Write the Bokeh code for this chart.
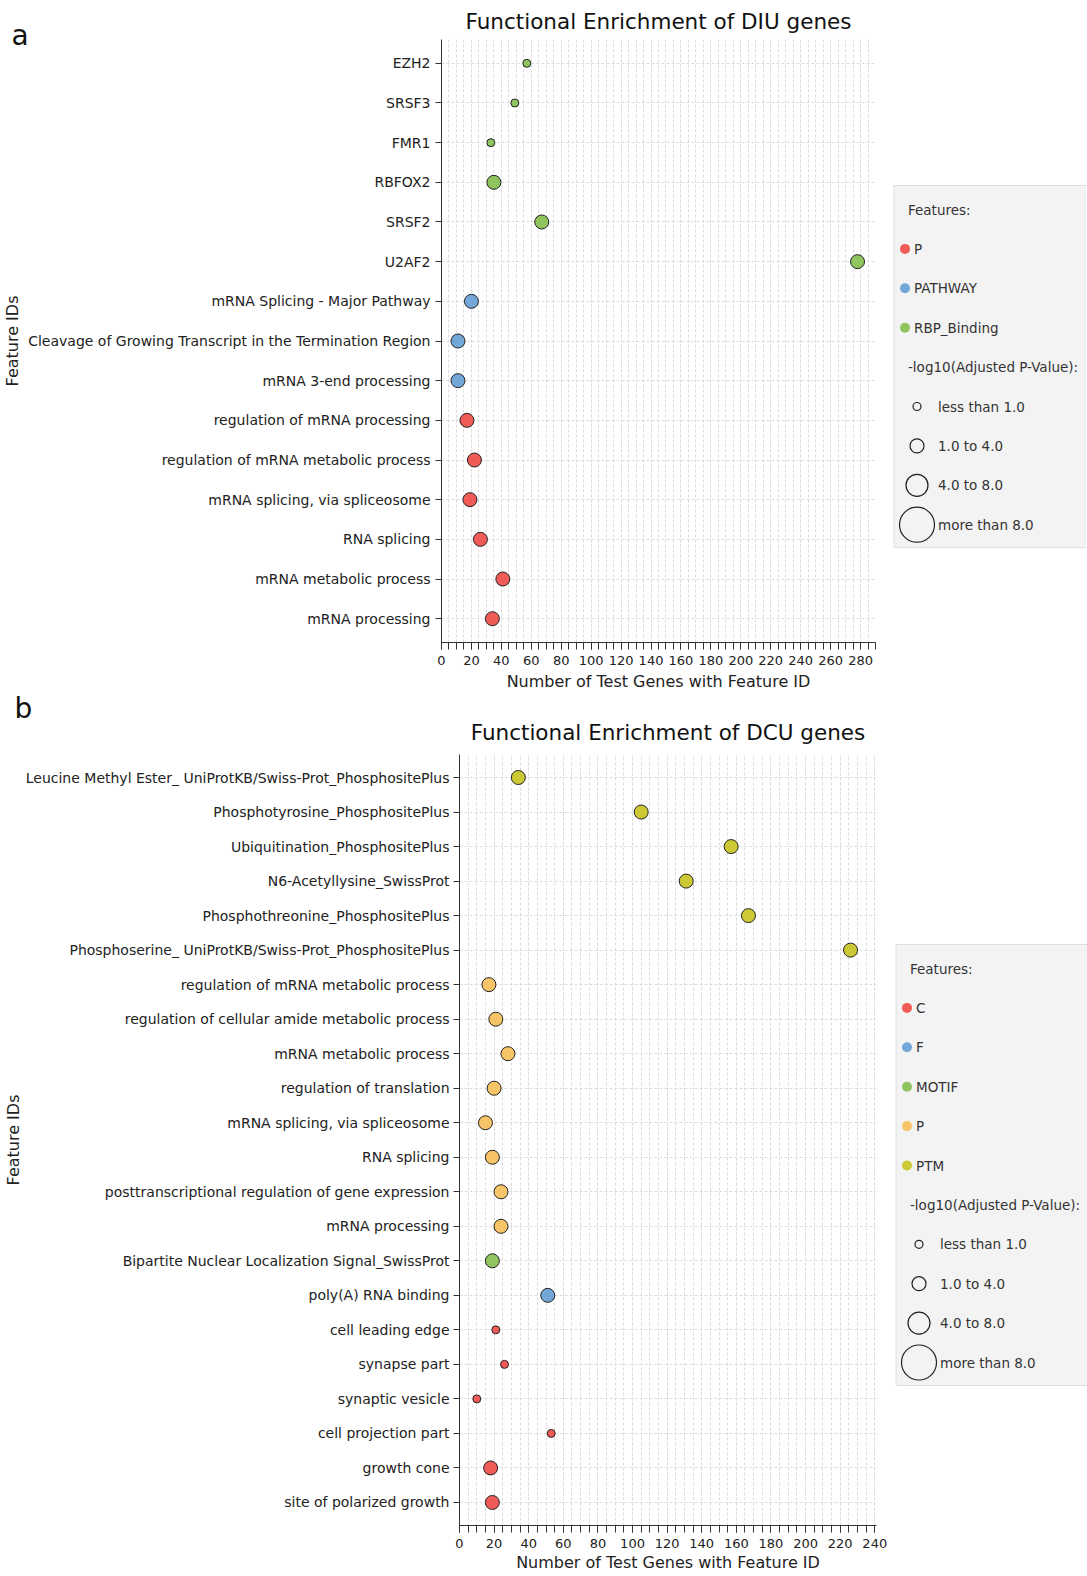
from bokeh.plotting import figure
from bokeh.models import FactorRange, Range1d, SingleIntervalTicker, ColumnDataSource, Label
from bokeh.layouts import column, row
from bokeh.embed import file_html
from bokeh.resources import INLINE
from bokeh.core.properties import value

FONT = "DejaVu Sans"

# ---------------- data: panel a (top -> bottom) ----------------
a_title = "Functional Enrichment of DIU genes"
a_labels = [
    "EZH2", "SRSF3", "FMR1", "RBFOX2", "SRSF2", "U2AF2",
    "mRNA Splicing - Major Pathway",
    "Cleavage of Growing Transcript in the Termination Region",
    "mRNA 3-end processing",
    "regulation of mRNA processing",
    "regulation of mRNA metabolic process",
    "mRNA splicing, via spliceosome",
    "RNA splicing",
    "mRNA metabolic process",
    "mRNA processing",
]
a_counts = [57, 49, 33, 35, 67, 278, 20, 11, 11, 17, 22, 19, 26, 41, 34]
a_features = ["RBP_Binding"] * 6 + ["PATHWAY"] * 3 + ["P"] * 6
a_pbins = ["less than 1.0"] * 3 + ["1.0 to 4.0"] * 12
a_feature_levels = ["P", "PATHWAY", "RBP_Binding"]
a_feature_colors = ["#f05b57", "#72a7d7", "#8fc45f"]

# ---------------- data: panel b (top -> bottom) ----------------
b_title = "Functional Enrichment of DCU genes"
b_labels = [
    "Leucine Methyl Ester_ UniProtKB/Swiss-Prot_PhosphositePlus",
    "Phosphotyrosine_PhosphositePlus",
    "Ubiquitination_PhosphositePlus",
    "N6-Acetyllysine_SwissProt",
    "Phosphothreonine_PhosphositePlus",
    "Phosphoserine_ UniProtKB/Swiss-Prot_PhosphositePlus",
    "regulation of mRNA metabolic process",
    "regulation of cellular amide metabolic process",
    "mRNA metabolic process",
    "regulation of translation",
    "mRNA splicing, via spliceosome",
    "RNA splicing",
    "posttranscriptional regulation of gene expression",
    "mRNA processing",
    "Bipartite Nuclear Localization Signal_SwissProt",
    "poly(A) RNA binding",
    "cell leading edge",
    "synapse part",
    "synaptic vesicle",
    "cell projection part",
    "growth cone",
    "site of polarized growth",
]
b_counts = [34, 105, 157, 131, 167, 226, 17, 21, 28, 20, 15, 19, 24, 24, 19, 51,
            21, 26, 10, 53, 18, 19]
b_features = ["PTM"] * 6 + ["P"] * 8 + ["MOTIF"] + ["F"] + ["C"] * 6
b_pbins = ["1.0 to 4.0"] * 16 + ["less than 1.0"] * 4 + ["1.0 to 4.0"] * 2
b_feature_levels = ["C", "F", "MOTIF", "P", "PTM"]
b_feature_colors = ["#f05b57", "#72a7d7", "#8fc45f", "#f8c468", "#cdc934"]

pbin_levels = ["less than 1.0", "1.0 to 4.0", "4.0 to 8.0", "more than 8.0"]
pbin_sizes = [8, 14, 22, 35]

x_label = "Number of Test Genes with Feature ID"
y_label = "Feature IDs"

# ---------------- layout constants ----------------
LEG_W = 194
LEG_SHIFT = -7.5          # legend contents relative to the legend canvas
GRID_COLOR = "#dcdcdc"
TEXT_COLOR = "#222222"


def make_panel(title, labels, counts, features, pbins, levels, colors,
               x_end, frame_w, frame_h, b_left, b_top, b_bottom, pad,
               title_standoff, title_offset, ylab_standoff, ytick_standoff,
               xlab_standoff, letter, letter_x, letter_y):
    cmap = dict(zip(levels, colors))
    smap = dict(zip(pbin_levels, pbin_sizes))
    src = ColumnDataSource(dict(
        label=labels, count=counts, feature=features, pbin=pbins,
        color=[cmap[f] for f in features],
        size=[smap[b] for b in pbins],
    ))
    p = figure(
        y_range=FactorRange(factors=list(reversed(labels)), range_padding=pad,
                            range_padding_units="absolute"),
        x_range=Range1d(0, x_end),
        frame_width=frame_w, frame_height=frame_h,
        min_border_left=b_left, min_border_right=0,
        min_border_top=b_top, min_border_bottom=b_bottom,
        output_backend="svg", toolbar_location=None, title=title,
    )
    p.outline_line_color = None
    p.title.align = "center"
    p.title.offset = title_offset
    p.title.text_font = FONT
    p.title.text_font_size = "21.5px"
    p.title.text_font_style = "normal"
    p.title.text_color = "#111111"
    p.title.standoff = title_standoff

    p.xaxis.ticker = SingleIntervalTicker(interval=20, num_minor_ticks=4)
    for ax in (p.xaxis[0], p.yaxis[0]):
        ax.axis_line_color = "#333333"
        ax.major_tick_line_color = "#333333"
        ax.minor_tick_line_color = "#333333"
        ax.major_tick_in = 0
        ax.minor_tick_in = 0
        ax.major_label_text_font = FONT
        ax.major_label_text_color = TEXT_COLOR
        ax.axis_label_text_font = FONT
        ax.axis_label_text_font_style = "normal"
        ax.axis_label_text_font_size = "16px"
        ax.axis_label_text_color = TEXT_COLOR
    p.xaxis.major_tick_out = 7
    p.xaxis.minor_tick_out = 7
    p.xaxis.major_label_text_font_size = "13px"
    p.xaxis.major_label_standoff = 6
    p.xaxis.axis_label = x_label
    p.xaxis.axis_label_standoff = xlab_standoff
    p.yaxis.major_tick_out = 6
    p.yaxis.major_label_text_font_size = "14px"
    p.yaxis.major_label_standoff = ytick_standoff
    p.yaxis.axis_label = y_label
    p.yaxis.axis_label_standoff = ylab_standoff

    p.xgrid.grid_line_color = GRID_COLOR
    p.xgrid.grid_line_dash = "3 2"
    p.xgrid.minor_grid_line_color = GRID_COLOR
    p.xgrid.minor_grid_line_dash = "3 2"
    p.ygrid.grid_line_color = GRID_COLOR
    p.ygrid.grid_line_dash = "3 2"

    p.scatter(x="count", y="label", size="size", source=src,
              fill_color="color", line_color="#222222", line_width=1)

    # panel letter: a side-panel label (drawn back at the far left of the canvas)
    p.add_layout(Label(x=letter_x, y=letter_y, x_units="screen", y_units="screen",
                       text=letter, text_font=FONT, text_font_size="28px",
                       text_color="#111111", text_baseline="alphabetic"), "right")
    return p


def make_legend(frame_h, b_top, b_bottom, box_top, levels, colors):
    lf = figure(frame_width=LEG_W, frame_height=frame_h,
                x_range=Range1d(0, LEG_W), y_range=Range1d(b_top + frame_h, b_top),
                min_border_left=0, min_border_right=0,
                min_border_top=b_top, min_border_bottom=b_bottom,
                x_axis_location=None, y_axis_location=None,
                toolbar_location=None, output_backend="svg")
    lf.outline_line_color = None
    lf.grid.visible = False
    s = LEG_SHIFT
    step = 39.4
    first = box_top + 24
    n = len(levels)
    ys_feat = [first + step * (i + 1) for i in range(n)]
    ys_size = [first + step * (n + 2 + i) for i in range(len(pbin_levels))]
    box_bottom = ys_size[-1] + 23
    lf.quad(left=[9 + s], right=[LEG_W + 30], top=[box_top], bottom=[box_bottom],
            fill_color="#f3f3f3", line_color="#dedede", line_width=1)
    lf.text(x=[23 + s, 23 + s], y=[first, first + step * (n + 1)],
            text=["Features:", "-log10(Adjusted P-Value):"],
            text_font=value(FONT), text_font_size="13.5px",
            text_baseline="middle", text_color="#333333")
    lf.scatter(x=[20 + s] * n, y=ys_feat, size=10, fill_color=colors, line_color=None)
    lf.text(x=[29 + s] * n, y=ys_feat, text=levels, text_font=value(FONT),
            text_font_size="13.5px", text_baseline="middle", text_color="#333333")
    lf.scatter(x=[32 + s] * len(pbin_levels), y=ys_size, size=pbin_sizes,
               fill_color=None, line_color="#222222", line_width=1.2)
    lf.text(x=[53 + s] * len(pbin_levels), y=ys_size, text=pbin_levels,
            text_font=value(FONT), text_font_size="13.5px",
            text_baseline="middle", text_color="#333333")
    return lf


A_TOP, A_FRAME, A_BOT = 39, 603, 47
pa = make_panel(a_title, a_labels, a_counts, a_features, a_pbins,
                a_feature_levels, a_feature_colors,
                x_end=290, frame_w=434, frame_h=A_FRAME, b_left=441, b_top=A_TOP,
                b_bottom=A_BOT, pad=0.1, title_standoff=11, title_offset=4,
                ylab_standoff=3, ytick_standoff=5, xlab_standoff=4,
                letter="a", letter_x=-864, letter_y=607)
la = make_legend(A_FRAME, A_TOP, A_BOT, 185, a_feature_levels, a_feature_colors)

B_START = 694
B_TOP, B_FRAME, B_BOT = 755 - B_START, 771, 48
pb = make_panel(b_title, b_labels, b_counts, b_features, b_pbins,
                b_feature_levels, b_feature_colors,
                x_end=241, frame_w=417, frame_h=B_FRAME, b_left=459, b_top=B_TOP,
                b_bottom=B_BOT, pad=0.167, title_standoff=19, title_offset=0,
                ylab_standoff=0, ytick_standoff=4, xlab_standoff=2,
                letter="b", letter_x=-862, letter_y=817)
lb = make_legend(B_FRAME, B_TOP, B_BOT, 945 - B_START, b_feature_levels, b_feature_colors)

layout = column(row(pa, la), row(pb, lb))
open("out.html", "w").write(file_html(layout, INLINE))
